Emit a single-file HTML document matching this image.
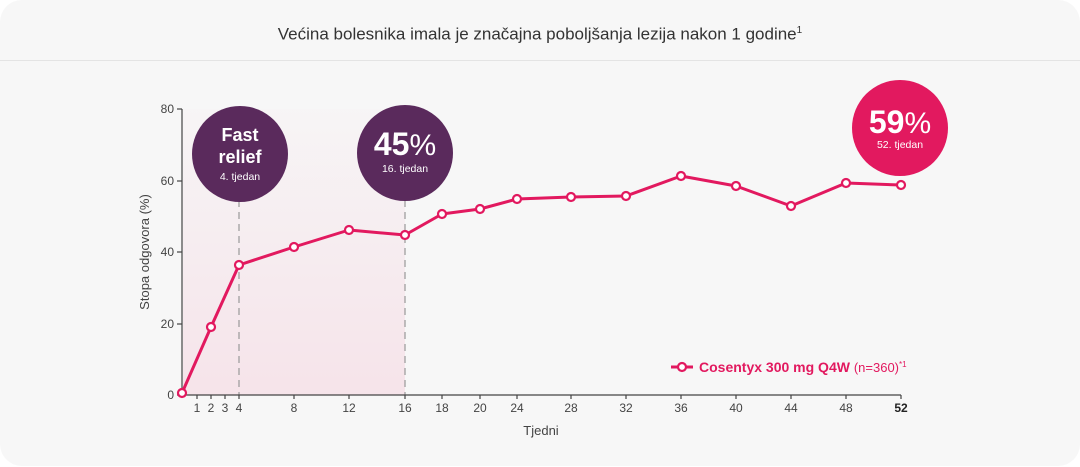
<!DOCTYPE html><html><head><meta charset="utf-8"><style>
body{margin:0;background:#fff;width:1080px;height:467px;overflow:hidden;font-family:"Liberation Sans",sans-serif}
.card{position:absolute;left:0;top:0;width:1080px;height:466px;background:#f7f7f7;border-radius:22px}
.hd{position:absolute;left:0;top:0;width:1080px;height:60px;border-bottom:1px solid #e4e4e4;text-align:center;line-height:62px;font-size:17px;color:#333}
</style></head><body><div class="card"><div class="hd">Većina bolesnika imala je značajna poboljšanja lezija nakon 1 godine<sup style="font-size:10px">1</sup></div></div>
<svg width="1080" height="467" style="position:absolute;left:0;top:0" font-family="Liberation Sans, sans-serif">
<defs><linearGradient id="g" x1="0" y1="0" x2="0" y2="1"><stop offset="0" stop-color="#e91e63" stop-opacity="0.01"/><stop offset="1" stop-color="#e91e63" stop-opacity="0.09"/></linearGradient></defs>
<rect x="183" y="109" width="222" height="286" fill="url(#g)"/>
<g stroke="#999" stroke-dasharray="7,5" stroke-width="1.2"><line x1="239" y1="200" x2="239" y2="395"/><line x1="405" y1="200" x2="405" y2="395"/></g>
<g stroke="#444" stroke-width="1.2"><line x1="182" y1="109" x2="182" y2="396"/><line x1="182" y1="395" x2="901" y2="395"/>
<line x1="177" y1="109" x2="182" y2="109"/><line x1="177" y1="181" x2="182" y2="181"/><line x1="177" y1="252" x2="182" y2="252"/><line x1="177" y1="324" x2="182" y2="324"/><line x1="177" y1="395" x2="182" y2="395"/>
<path d="M197 395v4M211 395v4M225 395v4M239 395v4M294 395v4M349 395v4M405 395v4M442 395v4M480 395v4M517 395v4M571 395v4M626 395v4M681 395v4M736 395v4M791 395v4M846 395v4M901 395v4"/></g>
<g font-size="12" fill="#444" text-anchor="end"><text x="174" y="113">80</text><text x="174" y="185">60</text><text x="174" y="256">40</text><text x="174" y="328">20</text><text x="174" y="399">0</text></g>
<g font-size="12" fill="#444" text-anchor="middle"><text x="197" y="412">1</text><text x="211" y="412">2</text><text x="225" y="412">3</text><text x="239" y="412">4</text><text x="294" y="412">8</text><text x="349" y="412">12</text><text x="405" y="412">16</text><text x="442" y="412">18</text><text x="480" y="412">20</text><text x="517" y="412">24</text><text x="571" y="412">28</text><text x="626" y="412">32</text><text x="681" y="412">36</text><text x="736" y="412">40</text><text x="791" y="412">44</text><text x="846" y="412">48</text><text x="901" y="412" font-weight="bold" fill="#222">52</text>
<text x="541" y="435" font-size="13">Tjedni</text></g>
<text transform="translate(149,252) rotate(-90)" font-size="13" fill="#444" text-anchor="middle">Stopa odgovora (%)</text>
<polyline fill="none" stroke="#e2195f" stroke-width="3" stroke-linejoin="round" points="182,393 211,327 239,265 294,247 349,230 405,235 442,214 480,209 517,199 571,197 626,196 681,176 736,186 791,206 846,183 901,185"/>
<g fill="#fff" stroke="#e2195f" stroke-width="2.2"><circle cx="182" cy="393" r="4"/><circle cx="211" cy="327" r="4"/><circle cx="239" cy="265" r="4"/><circle cx="294" cy="247" r="4"/><circle cx="349" cy="230" r="4"/><circle cx="405" cy="235" r="4"/><circle cx="442" cy="214" r="4"/><circle cx="480" cy="209" r="4"/><circle cx="517" cy="199" r="4"/><circle cx="571" cy="197" r="4"/><circle cx="626" cy="196" r="4"/><circle cx="681" cy="176" r="4"/><circle cx="736" cy="186" r="4"/><circle cx="791" cy="206" r="4"/><circle cx="846" cy="183" r="4"/><circle cx="901" cy="185" r="4"/></g>
<circle cx="240" cy="154" r="48" fill="#5a2a5c"/>
<g fill="#fff" text-anchor="middle"><text x="240" y="141" font-size="18" font-weight="bold">Fast</text><text x="240" y="163" font-size="18" font-weight="bold">relief</text><text x="240" y="180" font-size="10.5">4. tjedan</text></g>
<circle cx="405" cy="153" r="48" fill="#5a2a5c"/>
<g fill="#fff" text-anchor="middle"><text x="405" y="155" font-size="32" font-weight="bold">45<tspan font-weight="normal" font-size="30">%</tspan></text><text x="405" y="172" font-size="10.5">16. tjedan</text></g>
<circle cx="900" cy="128" r="48" fill="#e2195f"/>
<g fill="#fff" text-anchor="middle"><text x="900" y="133" font-size="32" font-weight="bold">59<tspan font-weight="normal" font-size="30">%</tspan></text><text x="900" y="148" font-size="10.5">52. tjedan</text></g>
<line x1="671" y1="367" x2="693" y2="367" stroke="#e2195f" stroke-width="3"/><circle cx="682" cy="367" r="4" fill="#fff" stroke="#e2195f" stroke-width="2.2"/>
<text x="699" y="372" font-size="14" fill="#e2195f"><tspan font-weight="bold">Cosentyx 300 mg Q4W</tspan> <tspan font-size="13">(n=360)</tspan><tspan font-size="8" dy="-5">*1</tspan></text>
</svg></body></html>
